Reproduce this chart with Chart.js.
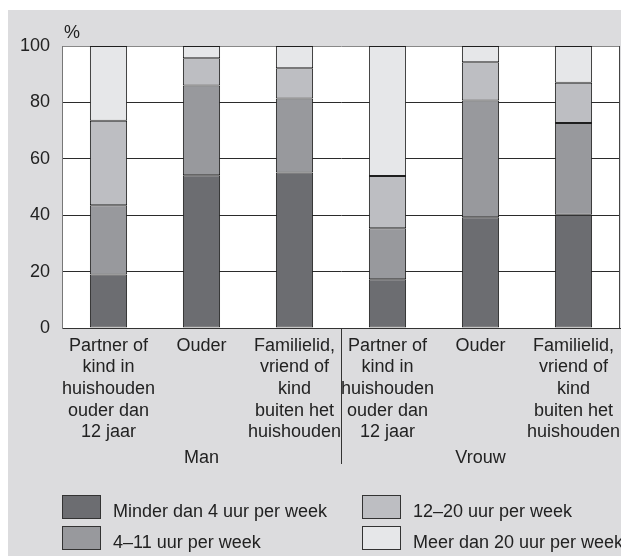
<!DOCTYPE html>
<html>
<head>
<meta charset="utf-8">
<script src="https://cdn.jsdelivr.net/npm/chart.js@4.4.1/dist/chart.umd.min.js"></script>
<style>
  body { margin: 0; background: #fff; }
  #wrap { position: relative; width: 621px; height: 558px; overflow: hidden; }
  #legend { position: absolute; left: 0; top: 0; width: 621px; height: 558px; pointer-events: none;
            font-family: "Liberation Sans", Arial, sans-serif; font-size: 18px; color: #222; }
  .item { position: absolute; white-space: nowrap; }
  .box { position: absolute; left: 0; top: 0; width: 37px; height: 22px; border: 1px solid #333; }
  .txt { position: absolute; left: 51px; top: 5px; line-height: 22px; }
</style>
</head>
<body>
<div id="wrap">
  <canvas id="chart" width="621" height="558"></canvas>
  <div id="legend"></div>
</div>
<script>
const categories = [
    ['Partner of', 'kind in', 'huishouden', 'ouder dan', '12 jaar'],
    ['Ouder'],
    ['Familielid,', 'vriend of', 'kind', 'buiten het', 'huishouden'],
    ['Partner of', 'kind in', 'huishouden', 'ouder dan', '12 jaar'],
    ['Ouder'],
    ['Familielid,', 'vriend of', 'kind', 'buiten het', 'huishouden']
];
const groups = ['Man', 'Vrouw'];
const yTicks = [0, 20, 40, 60, 80, 100];

const seriesNames = ['Minder dan 4 uur per week', '4–11 uur per week', '12–20 uur per week', 'Meer dan 20 uur per week'];
const lessThan4 = [19, 54.2, 55.1, 17.3, 39.3, 40.2];
const from4to11 = [24.5, 31.8, 26.3, 18.1, 41.4, 32.5];
const from12to20 = [30, 9.7, 10.7, 18.5, 13.5, 14.3];
const moreThan20 = [26.5, 4.3, 7.9, 46.1, 5.8, 13];

const colors = ['#6c6d71', '#98999d', '#bdbec2', '#e6e7e9'];
const fontFamily = '"Liberation Sans", Arial, sans-serif';

const seriesData = [lessThan4, from4to11, from12to20, moreThan20];

const datasets = seriesData.map((d, i) => ({
    label: seriesNames[i],
    data: d,
    backgroundColor: colors[i],
    borderColor: '#1e1e1e',
    borderWidth: 1,
    borderSkipped: false,
    barPercentage: 0.4,
    categoryPercentage: 1
}));

const decorPlugin = {
    id: 'decor',
    beforeDraw(chart) {
        const ctx = chart.ctx;
        const a = chart.chartArea;
        ctx.save();
        ctx.fillStyle = '#ffffff';
        ctx.fillRect(0, 0, chart.width, chart.height);
        ctx.fillStyle = '#dcdcde';
        ctx.fillRect(8, 10, chart.width - 8, 546);
        ctx.fillStyle = '#ffffff';
        ctx.fillRect(a.left, a.top, a.right - a.left, a.bottom - a.top);
        ctx.restore();
    },
    afterDraw(chart) {
        const ctx = chart.ctx;
        const a = chart.chartArea;
        const x = chart.scales.x;
        ctx.save();
        // right border of plot
        ctx.strokeStyle = '#444';
        ctx.lineWidth = 1;
        ctx.beginPath();
        ctx.moveTo(a.right - 0.5, a.top);
        ctx.lineTo(a.right - 0.5, a.bottom);
        ctx.stroke();
        // separator between groups
        const sep = Math.round((x.getPixelForValue(2) + x.getPixelForValue(3)) / 2) + 0.5;
        ctx.strokeStyle = '#333';
        ctx.beginPath();
        ctx.moveTo(sep, a.bottom);
        ctx.lineTo(sep, 464);
        ctx.stroke();
        // group labels
        ctx.fillStyle = '#222';
        ctx.font = '18px ' + fontFamily;
        ctx.textAlign = 'center';
        ctx.textBaseline = 'middle';
        ctx.fillText(groups[0], (x.getPixelForValue(0) + x.getPixelForValue(2)) / 2, 458);
        ctx.fillText(groups[1], (x.getPixelForValue(3) + x.getPixelForValue(5)) / 2, 458);
        // unit
        ctx.textAlign = 'left';
        ctx.fillText('%', a.left + 2, 33);
        ctx.restore();
    }
};

const ctxChart = document.getElementById('chart').getContext('2d');
const chart = new Chart(ctxChart, {
    type: 'bar',
    data: { labels: categories, datasets: datasets },
    options: {
        responsive: false,
        animation: false,
        devicePixelRatio: 1,
        layout: { padding: { left: 0, top: 46, right: 1, bottom: 0 } },
        plugins: {
            legend: { display: false },
            tooltip: { enabled: false }
        },
        scales: {
            x: {
                stacked: true,
                grid: { display: false, drawTicks: false },
                border: { display: true, color: '#333' },
                ticks: {
                    color: '#222',
                    font: { family: fontFamily, size: 18, lineHeight: 1.2 },
                    padding: 7,
                    maxRotation: 0,
                    autoSkip: false
                },
                afterFit(scale) {
                    scale.height = 230;
                    scale.paddingLeft = 0;
                    scale.paddingRight = 0;
                }
            },
            y: {
                stacked: true,
                min: 0,
                max: 100,
                afterBuildTicks(scale) { scale.ticks = yTicks.map(v => ({ value: v })); },
                grid: {
                    drawTicks: false,
                    color: c => (c.tick && c.tick.value === 100) ? '#888' : '#2b2b2b',
                    lineWidth: 1
                },
                border: { display: true, color: '#777' },
                ticks: {
                    color: '#222',
                    font: { family: fontFamily, size: 18 },
                    padding: 12
                },
                afterFit(scale) { scale.width = 62; }
            }
        }
    },
    plugins: [decorPlugin]
});

// legend laid out in two columns like the original
const legendEl = document.getElementById('legend');
const legendPos = [[62, 495], [62, 526], [362, 495], [362, 526]];
seriesNames.forEach((name, i) => {
    const item = document.createElement('div');
    item.className = 'item';
    item.style.left = legendPos[i][0] + 'px';
    item.style.top = legendPos[i][1] + 'px';
    const box = document.createElement('div');
    box.className = 'box';
    box.style.background = colors[i];
    const txt = document.createElement('div');
    txt.className = 'txt';
    txt.textContent = name;
    item.appendChild(box);
    item.appendChild(txt);
    legendEl.appendChild(item);
});
</script>
</body>
</html>
